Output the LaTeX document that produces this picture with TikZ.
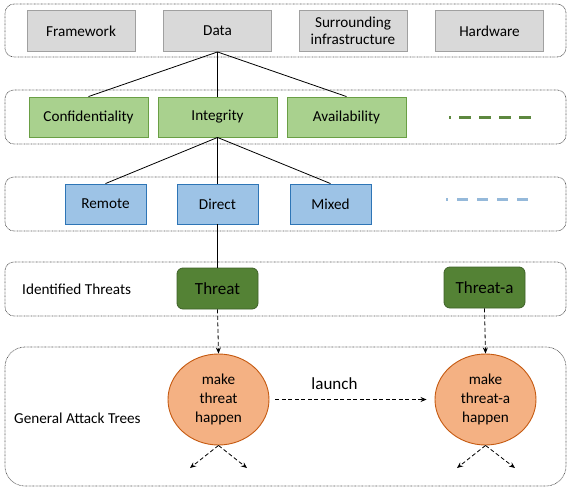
\documentclass[tikz,border=0pt]{standalone}
\usepackage{fontspec}
\setmainfont{Carlito}
\usetikzlibrary{shapes.geometric,arrows.meta}
\definecolor{grayfill}{HTML}{D9D9D9}
\definecolor{graydraw}{HTML}{A0A0A0}
\definecolor{lgreen}{HTML}{A9D18E}
\definecolor{lgreendraw}{HTML}{6A9F45}
\definecolor{lblue}{HTML}{9DC3E6}
\definecolor{lbluedraw}{HTML}{2E75B6}
\definecolor{dgreen}{HTML}{548235}
\definecolor{dgreendraw}{HTML}{3E6128}
\definecolor{orfill}{HTML}{F4B183}
\definecolor{ordraw}{HTML}{C55A11}
\definecolor{bandline}{HTML}{555555}
\tikzset{
  band/.style={draw=bandline, line width=0.7pt, dash pattern=on 0.7pt off 0.7pt, rounded corners=9pt},
  txt/.style={font=\fontsize{15.2}{16.5}\selectfont, text=black},
  graybox/.style={txt, draw=graydraw, fill=grayfill, line width=0.9pt, minimum width=108pt, minimum height=41pt, inner sep=0pt, align=center},
  greenbox/.style={txt, draw=lgreendraw, fill=lgreen, line width=0.9pt, minimum width=119pt, minimum height=40pt, inner sep=0pt},
  bluebox/.style={txt, draw=lbluedraw, fill=lblue, line width=0.9pt, minimum width=81pt, minimum height=40pt, inner sep=0pt},
  threatbox/.style={draw=dgreendraw, fill=dgreen, line width=0.8pt, rounded corners=6pt, minimum width=81pt, minimum height=41pt, inner sep=0pt, font=\fontsize{17}{18}\selectfont, text=black},
  goal/.style={ellipse, draw=ordraw, fill=orfill, line width=0.9pt, minimum width=101pt, minimum height=91pt, inner sep=0pt, align=center, font=\fontsize{15.2}{19}\selectfont, text=black},
  label/.style={txt, inner sep=0pt},
  link/.style={line width=0.8pt, black},
  dlink/.style={line width=0.8pt, black, dash pattern=on 4pt off 2.5pt, -{Stealth[length=6pt,width=5pt]}},
}
\begin{document}
\begin{tikzpicture}[x=1pt,y=-1pt]
\useasboundingbox (0,0) rectangle (568,488);
% bands
\draw[band] (5,4) rectangle (566,57);
\draw[band] (5,90) rectangle (566,144);
\draw[band] (5,177) rectangle (566,231);
\draw[band] (5,262) rectangle (566,316);
\draw[band, rounded corners=20pt] (5,347) rectangle (566,486);
% row 1
\node[graybox] (fw) at (81,31) {Framework};
\node[graybox] (data) at (217.5,31) {Data};
\node[graybox] (surr) at (353,31) {Surrounding\\infrastructure};
\node[graybox] (hw) at (489.5,31) {Hardware};
% row 2
\node[greenbox] (conf) at (88.5,117) {Confidentiality};
\node[greenbox] (integ) at (217.5,117) {Integrity};
\node[greenbox] (avail) at (346.5,117) {Availability};
\draw[line width=3pt, color=dgreen!95, dash pattern=on 2pt off 8pt on 12pt off 8pt on 12pt off 8pt on 12pt off 8pt on 12pt] (449,117) -- (531,117);
% row 3
\node[bluebox] (remote) at (105.5,204) {Remote};
\node[bluebox] (direct) at (217.5,204) {Direct};
\node[bluebox] (mixed) at (330.5,204) {Mixed};
\draw[line width=3pt, color=lblue!95!black, dash pattern=on 2pt off 9pt on 11pt off 9pt on 11pt off 9pt on 11pt off 9pt on 11pt] (446,199) -- (528,199);
% row 4
\node[label, anchor=west] (idt) at (22,289) {Identified Threats};
\node[threatbox] (threat) at (217.5,288.5) {Threat};
\node[threatbox] (threata) at (484.5,287.5) {Threat-a};
% row 5
\node[label, anchor=west] (gat) at (14,418) {General Attack Trees};
\node[goal] (mk1) at (218.5,399.5) {make\\threat\\happen};
\node[goal] (mk2) at (485.5,399.5) {make\\threat-a\\happen};
\node[font=\fontsize{17}{18}\selectfont, text=black, inner sep=0pt] (launch) at (334.5,384) {launch};
\coordinate (l1) at (190,468);
\coordinate (r1) at (247,468);
\coordinate (l2) at (457,468);
\coordinate (r2) at (515,468);
% connectors
\draw[link] (data.south) -- (conf.north);
\draw[link] (data.south) -- (integ.north);
\draw[link] (data.south) -- (avail.north);
\draw[link] (integ.south) -- (remote.north);
\draw[link] (integ.south) -- (direct.north);
\draw[link] (integ.south) -- (mixed.north);
\draw[link] (direct.south) -- (threat.north);
\draw[dlink] (threat.south) -- (mk1.north);
\draw[dlink] (threata.south) -- (mk2.north);
\draw[dlink, shorten <=6pt, shorten >=8pt] (mk1.east) -- (mk2.west);
\draw[dlink] (mk1.south) -- (l1);
\draw[dlink] (mk1.south) -- (r1);
\draw[dlink] (mk2.south) -- (l2);
\draw[dlink] (mk2.south) -- (r2);
\end{tikzpicture}
\end{document}
